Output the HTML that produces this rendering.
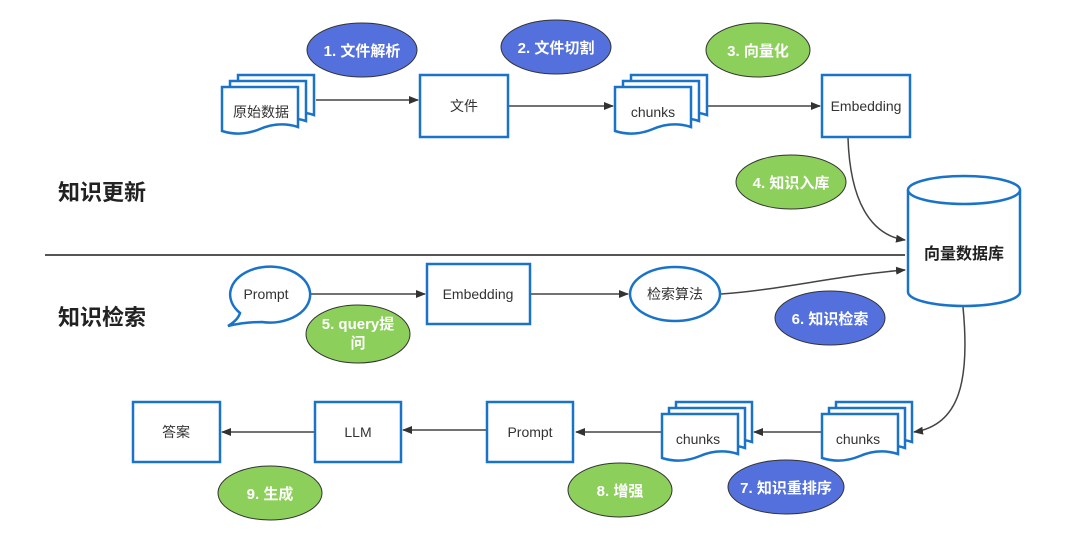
<!DOCTYPE html>
<html><head><meta charset="utf-8"><style>
html,body{margin:0;padding:0;background:#fff;}
svg{display:block;font-family:"Liberation Sans","Noto Sans CJK SC",sans-serif;}
</style></head><body>
<svg width="1072" height="552" viewBox="0 0 1072 552" xmlns="http://www.w3.org/2000/svg">
<defs>
<marker id="a" markerWidth="10" markerHeight="8" refX="9" refY="4" orient="auto" markerUnits="userSpaceOnUse">
<path d="M0,0 L10,4 L0,8 Z" fill="#333"/></marker>
<g id="doc">
<path d="M0,0 H76 V40 Q57,34 38,42 Q19,50 0,44 Z" fill="#fff" stroke="#1a73c8" stroke-width="2.5"/>
</g>
</defs>
<g fill="none" stroke="#444" stroke-width="1.5">
<line x1="45" y1="255" x2="905" y2="255" stroke="#555" stroke-width="2"/>
<line x1="316" y1="100" x2="418" y2="100" marker-end="url(#a)"/>
<line x1="509" y1="106" x2="613" y2="106" marker-end="url(#a)"/>
<line x1="702" y1="106" x2="820" y2="106" marker-end="url(#a)"/>
<path d="M848,138 C850,200 870,235 905,240" marker-end="url(#a)"/>
<line x1="306" y1="294" x2="425" y2="294" marker-end="url(#a)"/>
<line x1="531" y1="294" x2="628" y2="294" marker-end="url(#a)"/>
<path d="M721,294 C780,290 840,275 905,270" marker-end="url(#a)"/>
<path d="M963,307 C970,380 960,425 914,432" marker-end="url(#a)"/>
<line x1="822" y1="432" x2="754" y2="432" marker-end="url(#a)"/>
<line x1="662" y1="432" x2="576" y2="432" marker-end="url(#a)"/>
<line x1="487" y1="430" x2="403" y2="430" marker-end="url(#a)"/>
<line x1="315" y1="432" x2="222" y2="432" marker-end="url(#a)"/>
</g>
<!-- docs -->
<use href="#doc" x="238" y="75"/><use href="#doc" x="230" y="81"/><use href="#doc" x="222" y="87"/>
<text x="261" y="117" font-size="14" text-anchor="middle" fill="#333">原始数据</text>
<use href="#doc" x="631" y="75"/><use href="#doc" x="623" y="81"/><use href="#doc" x="615" y="87"/>
<text x="653" y="117" font-size="14" text-anchor="middle" fill="#333">chunks</text>
<use href="#doc" x="676" y="402"/><use href="#doc" x="669" y="408"/><use href="#doc" x="662" y="414"/>
<text x="698" y="444" font-size="14" text-anchor="middle" fill="#333">chunks</text>
<use href="#doc" x="836" y="402"/><use href="#doc" x="829" y="408"/><use href="#doc" x="822" y="414"/>
<text x="858" y="444" font-size="14" text-anchor="middle" fill="#333">chunks</text>
<g fill="#fff" stroke="#1a73c8" stroke-width="2.5">
<rect x="420" y="75" width="88" height="62"/>
<rect x="822" y="75" width="88" height="62"/>
<rect x="427" y="264" width="103" height="60"/>
<rect x="487" y="402" width="86" height="60"/>
<rect x="315" y="402" width="86" height="60"/>
<rect x="133" y="402" width="87" height="60"/>
<ellipse cx="675" cy="294" rx="45" ry="27"/>
<path d="M240,313 A40,28 0 1 1 262,322 Q245,322 228,326 Q238,320 240,313 Z"/>
<path d="M908,190 V292 A56,14 0 0 0 1020,292 V190"/>
<ellipse cx="964" cy="190" rx="56" ry="14"/>
</g>
<g font-size="14" fill="#333" text-anchor="middle">
<text x="464" y="111">文件</text>
<text x="866" y="111">Embedding</text>
<text x="478" y="299">Embedding</text>
<text x="675" y="299">检索算法</text>
<text x="266" y="299">Prompt</text>
<text x="530" y="437">Prompt</text>
<text x="358" y="437">LLM</text>
<text x="176" y="437">答案</text>
<text x="964" y="259" font-size="16" font-weight="bold" fill="#222">向量数据库</text>
</g>
<g font-size="22" font-weight="bold" fill="#222">
<text x="58" y="200">知识更新</text>
<text x="58" y="325">知识检索</text>
</g>
<g stroke="#333" stroke-width="1">
<ellipse cx="362" cy="50" rx="55" ry="27" fill="#5470dc"/>
<ellipse cx="556" cy="47" rx="55" ry="27" fill="#5470dc"/>
<ellipse cx="758" cy="50" rx="52" ry="27" fill="#8ccf5a"/>
<ellipse cx="791" cy="182" rx="55" ry="27" fill="#8ccf5a"/>
<ellipse cx="358" cy="334" rx="52" ry="29" fill="#8ccf5a"/>
<ellipse cx="830" cy="318" rx="55" ry="27" fill="#5470dc"/>
<ellipse cx="786" cy="487" rx="58" ry="27" fill="#5470dc"/>
<ellipse cx="620" cy="490" rx="52" ry="27" fill="#8ccf5a"/>
<ellipse cx="270" cy="493" rx="52" ry="27" fill="#8ccf5a"/>
</g>
<g font-size="15" font-weight="bold" fill="#fff" text-anchor="middle">
<text x="362" y="56">1. 文件解析</text>
<text x="556" y="53">2. 文件切割</text>
<text x="758" y="56">3. 向量化</text>
<text x="791" y="188">4. 知识入库</text>
<text x="358" y="329">5. query提</text>
<text x="358" y="348">问</text>
<text x="830" y="324">6. 知识检索</text>
<text x="786" y="493">7. 知识重排序</text>
<text x="620" y="496">8. 增强</text>
<text x="270" y="499">9. 生成</text>
</g>
</svg>
</body></html>
